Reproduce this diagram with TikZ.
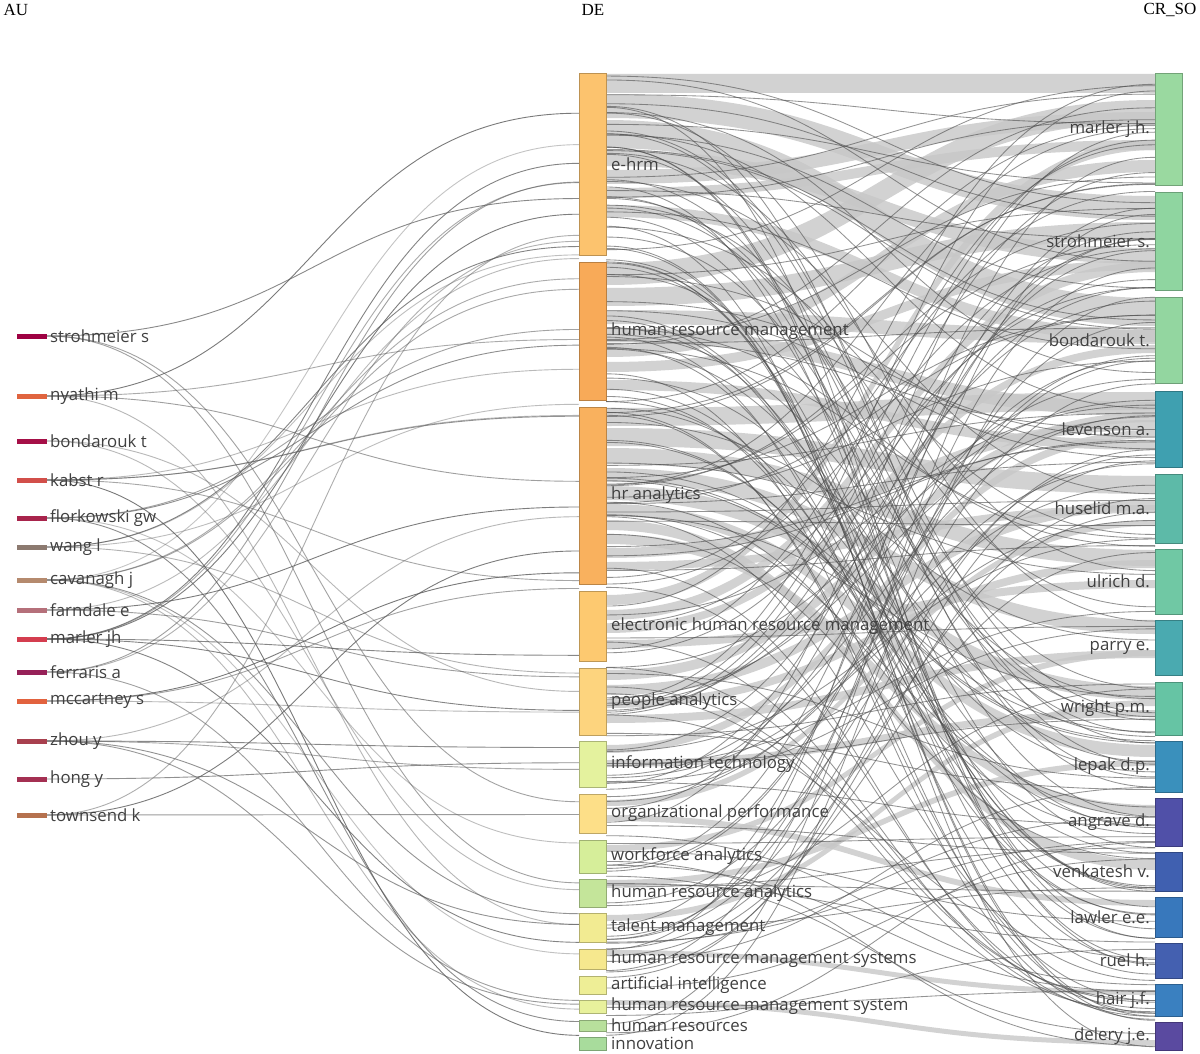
\documentclass[tikz,border=0pt]{standalone}
\usepackage{fontspec}
\setmainfont{Liberation Serif}
\newfontfamily\lab{Open Sans}
\begin{document}
\begin{tikzpicture}[x=1pt,y=-1pt,
  lbl/.style={font=\lab\fontsize{16.8}{18}\selectfont, text=black!75, inner sep=0pt},
  hdr/.style={font=\fontsize{17}{19}\selectfont, inner sep=0pt},
  thinlink/.style={draw=black!70, line width=0.85pt, opacity=0.6},
  band/.style={fill=black!22, opacity=0.8}]
\useasboundingbox (0,0) rectangle (1200,1054);
\fill[white] (0,0) rectangle (1200,1054);
\node[hdr] (hau) at (16,10) {AU};
\node[hdr] (hde) at (593,10) {DE};
\node[hdr] (hcr) at (1170,10) {CR\_SO};
% bands middle -> right
\foreach \ya/\yb/\w in {74/74/19, 94/196/24, 120/298/28, 150/248/16, 170/112/14, 188/140/10, 205/330/12,
  263/100/22, 288/222/18, 310/330/14, 328/402/14, 345/160/12, 362/260/10, 380/440/10,
  408/392/18, 428/476/18, 448/550/16, 468/620/14, 486/686/14, 504/745/12, 520/860/10, 534/805/10, 548/420/10, 562/505/8,
  595/140/10, 610/262/10, 625/345/8, 640/580/8, 670/412/10, 685/500/10, 700/560/8, 715/650/8, 745/430/8, 760/710/7, 800/520/6, 815/900/6, 845/650/6, 880/760/6, 915/700/6, 950/990/5, 1000/1040/5}{
  \pgfmathsetmacro\yc{\ya+\w}\pgfmathsetmacro\yd{\yb+\w}
  \fill[band] (606,\ya) .. controls (880,\ya) and (880,\yb) .. (1155,\yb) -- (1155,\yd) .. controls (880,\yd) and (880,\yc) .. (606,\yc) -- cycle;
}
\pgfmathsetseed{7}
\foreach \i in {1,...,170}{
  \pgfmathsetmacro\ya{76+rnd*972}\pgfmathsetmacro\yb{76+rnd*972}
  \draw[thinlink] (606,\ya) .. controls (880,\ya) and (880,\yb) .. (1155,\yb);
}
% left links
\foreach \i in {1,...,52}{
  \pgfmathsetmacro\k{int(random(0,13))}
  \pgfmathsetmacro\ya{{336,396,441,480,518,547,580,610,639,672,701,741,779,815}[\k]}
  \pgfmathsetmacro\yb{76+rnd*972}
  \pgfmathsetmacro\op{0.35+0.5*rnd}
  \draw[draw=black!65, line width=0.9pt, opacity=\op] (47,\ya) .. controls (313,\ya) and (313,\yb) .. (579,\yb);
}
% AU nodes
\foreach \y/\c/\t [count=\n] in {336/9E0142/strohmeier s, 396/E0643F/nyathi m, 441/A50F47/bondarouk t, 480/D24F4A/kabst r, 518/A8244C/florkowski gw, 547/8C7A70/wang l, 580/B58A6E/cavanagh j, 610/B5707A/farndale e, 639/D43D4F/marler jh, 672/962158/ferraris a, 701/E2623E/mccartney s, 741/A8404E/zhou y, 779/A43052/hong y, 815/B5714E/townsend k}{
  \definecolor{cc}{HTML}{\c}
  \fill[cc] (17,\y-2.5) rectangle (47,\y+2.5);
  \node[lbl,anchor=west] (au\n) at (50,\y) {\t};
}
% DE nodes
\foreach \a/\b/\c/\t [count=\n] in {73/255/FCC36E/e-hrm, 262/400/F8AA58/human resource management, 407/584/F9B15E/hr analytics, 591/661/FDC970/electronic human resource management, 668/735/FDD47E/people analytics, 741/787/E4F29E/information technology, 794/833/FDDF88/organizational performance, 840/873/D6EE9A/workforce analytics, 879/907/C4E59A/human resource analytics, 913/942/F2EB92/talent management, 949/969/F6E88E/human resource management systems, 976/994/EEEE96/artificial intelligence, 1000/1013/E8F19C/human resource management system, 1020/1031/B8E09C/human resources, 1037/1050/A8DC9C/innovation}{
  \definecolor{cc}{HTML}{\c}
  \filldraw[fill=cc,draw=cc!75!black,line width=0.6pt] (579,\a) rectangle (606,\b);
  \node[lbl,anchor=west] (de\n) at (611,{(\a+\b)/2}) {\t};
}
% CR_SO nodes
\foreach \a/\b/\c/\t [count=\n] in {73/185/9AD9A0/marler j.h., 192/290/8FD5A0/strohmeier s., 297/383/93D6A0/bondarouk t., 391/467/3FA0B0/levenson a., 474/543/5DBAA8/huselid m.a., 549/614/70C8A4/ulrich d., 620/675/4AAAB0/parry e., 682/735/66C4A4/wright p.m., 741/792/3A90BC/lepak d.p., 798/846/5050A8/angrave d., 852/891/4060B0/venkatesh v., 897/937/3878BC/lawler e.e., 943/978/4460B0/ruel h., 984/1016/3A80C0/hair j.f., 1022/1050/5A4AA0/delery j.e.}{
  \definecolor{cc}{HTML}{\c}
  \filldraw[fill=cc,draw=cc!75!black,line width=0.6pt] (1155,\a) rectangle (1182,\b);
  \node[lbl,anchor=east] (cr\n) at (1150,{(\a+\b)/2}) {\t};
}
\end{tikzpicture}
\end{document}
